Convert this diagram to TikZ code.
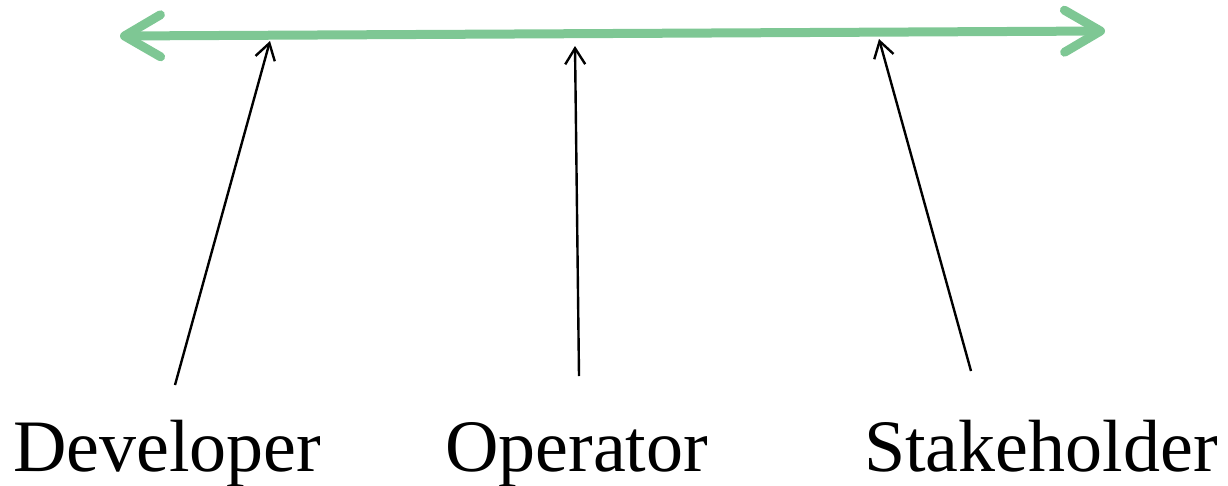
\documentclass[tikz,border=0pt]{standalone}
\usepackage{fontspec}
\setmainfont{Liberation Serif}
\usetikzlibrary{arrows.meta}
\definecolor{axisgreen}{RGB}{126,199,148}
\tikzset{
  axis/.style={draw=axisgreen, line width=9pt, line cap=round, line join=round,
    {Straight Barb[length=36pt,width=42pt,line width=9pt,round]}-{Straight Barb[length=36pt,width=42pt,line width=9pt,round]}},
  pointer/.style={draw=black, line width=2.4pt, -{Straight Barb[length=16pt,width=20pt,line width=2.4pt]}},
  role/.style={anchor=base west, inner sep=0pt, font=\fontsize{74}{80}\selectfont}
}
\begin{document}
\begin{tikzpicture}[x=1pt,y=-1pt]
\useasboundingbox (0,0) rectangle (1228,485);
% axis
\coordinate (L) at (120,36);
\coordinate (R) at (1105,31);
\draw[axis] (L) -- (R);
% labels
\node[role] (dev) at (13,471) {Developer};
\node[role] (op) at (445,471) {Operator};
\node[role] (stake) at (864,471) {Stakeholder};
% pointer ends
\coordinate (devtail) at (175,385);
\coordinate (devtip) at (270,41);
\coordinate (optail) at (579,376);
\coordinate (optip) at (575,46);
\coordinate (staketail) at (971,371);
\coordinate (staketip) at (879,39);
\draw[pointer] (devtail) -- (devtip);
\draw[pointer] (optail) -- (optip);
\draw[pointer] (staketail) -- (staketip);
\end{tikzpicture}
\end{document}
